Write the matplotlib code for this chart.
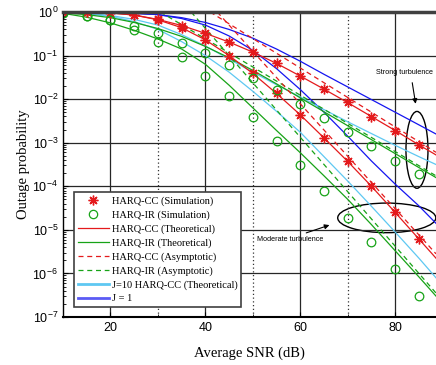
import numpy as np
import matplotlib
matplotlib.use("Agg")
import matplotlib.pyplot as plt
from matplotlib.patches import Ellipse
from matplotlib.lines import Line2D

plt.rcParams['font.family'] = 'Liberation Sans'
plt.rcParams['mathtext.fontset'] = 'custom'
plt.rcParams['mathtext.rm'] = 'Liberation Sans'
plt.rcParams['mathtext.it'] = 'Liberation Sans'

# ---- data (log10 of outage probability) ----
snr_sim = np.arange(10, 90, 5)
snr_th = [10, 15, 20, 25, 30, 35, 40, 45, 50, 55, 60, 65, 70, 75, 80, 85, 88.6]

# strong turbulence
cc_sim_strong = [-0.002, -0.006, -0.02, -0.07, -0.17, -0.31, -0.49, -0.68, -0.91,
                 -1.18, -1.47, -1.77, -2.07, -2.40, -2.72, -3.05]
ir_sim_strong = [-0.03, -0.09, -0.18, -0.31, -0.49, -0.70, -0.95, -1.22, -1.52,
                 -1.80, -2.12, -2.44, -2.76, -3.07, -3.41, -3.72]
cc_th_strong = [-0.002, -0.006, -0.02, -0.07, -0.17, -0.31, -0.49, -0.69, -0.92,
                -1.18, -1.47, -1.77, -2.08, -2.40, -2.72, -3.05, -3.28]
ir_th_strong = [-0.02, -0.06, -0.13, -0.24, -0.38, -0.56, -0.79, -1.05, -1.34,
                -1.65, -1.97, -2.29, -2.61, -2.93, -3.25, -3.57, -3.80]
j10_strong = [-0.01, -0.03, -0.08, -0.17, -0.30, -0.52, -0.78, -1.08, -1.38,
              -1.67, -1.95, -2.24, -2.52, -2.79, -3.06, -3.32, -3.50]
j1_strong = [0.0, -0.003, -0.01, -0.03, -0.06, -0.13, -0.24, -0.40, -0.60,
             -0.85, -1.13, -1.43, -1.72, -2.01, -2.30, -2.59, -2.80]

# moderate turbulence
cc_sim_mod = [-0.002, -0.006, -0.02, -0.07, -0.18, -0.36, -0.64, -1.00, -1.41,
              -1.86, -2.36, -2.90, -3.42, -4.00, -4.60, -5.21]
ir_sim_mod = [-0.03, -0.09, -0.19, -0.41, -0.68, -1.04, -1.47, -1.93, -2.42,
              -2.96, -3.52, -4.10, -4.73, -5.28, -5.90, -6.51]
cc_th_mod = [-0.002, -0.006, -0.02, -0.07, -0.18, -0.36, -0.64, -1.00, -1.41,
             -1.87, -2.36, -2.89, -3.43, -4.00, -4.60, -5.21, -5.65]
ir_th_mod = [-0.03, -0.12, -0.25, -0.42, -0.62, -0.85, -1.20, -1.68, -2.20,
             -2.72, -3.23, -3.76, -4.30, -4.88, -5.48, -6.08, -6.52]
j10_mod = [-0.01, -0.04, -0.10, -0.22, -0.40, -0.68, -1.00, -1.38, -1.82,
           -2.28, -2.76, -3.32, -3.88, -4.46, -5.05, -5.65, -6.10]
j1_mod = [0.0, -0.003, -0.01, -0.03, -0.06, -0.15, -0.30, -0.55, -0.88,
          -1.30, -1.78, -2.30, -2.85, -3.42, -3.95, -4.45, -4.85]

# asymptotes (straight lines, end points)
cc_asy_strong_x, cc_asy_strong_y = [41, 88.6], [0.0, -3.22]
ir_asy_strong_x, ir_asy_strong_y = [30.5, 88.6], [0.0, -3.76]
cc_asy_mod_x, cc_asy_mod_y = [42.5, 88.6], [0.0, -5.55]
ir_asy_mod_x, ir_asy_mod_y = [37.0, 88.6], [0.0, -6.45]

red = '#e41a1c'
green = '#17a317'
cyan = '#5ec8f2'
blue = '#1515f0'

fig = plt.figure(figsize=(4.36, 3.65), dpi=100)
ax = fig.add_axes([63 / 436, 48 / 365, 373 / 436, 305 / 365])

p = lambda v: 10.0 ** np.array(v)
lw = 0.9

for yy in (j1_strong, j1_mod):
    ax.plot(snr_th, p(yy), color=blue, lw=lw)
for yy in (j10_strong, j10_mod):
    ax.plot(snr_th, p(yy), color=cyan, lw=lw)
for yy in (ir_th_strong, ir_th_mod):
    ax.plot(snr_th, p(yy), color=green, lw=lw)
for xx, yy in ((ir_asy_strong_x, ir_asy_strong_y), (ir_asy_mod_x, ir_asy_mod_y)):
    ax.plot(xx, p(yy), color=green, lw=lw, ls=(0, (4, 3)))
for yy in (cc_th_strong, cc_th_mod):
    ax.plot(snr_th, p(yy), color=red, lw=lw)
for xx, yy in ((cc_asy_strong_x, cc_asy_strong_y), (cc_asy_mod_x, cc_asy_mod_y)):
    ax.plot(xx, p(yy), color=red, lw=lw, ls=(0, (4, 3)))

star = (8, 2, 0)
for yy in (cc_sim_strong, cc_sim_mod):
    ax.plot(snr_sim, p(yy), ls='none', marker=star, ms=7, mec=red, mew=1.0, color=red)
for yy in (ir_sim_strong, ir_sim_mod):
    ax.plot(snr_sim, p(yy), ls='none', marker='o', ms=6.2, mfc='none', mec=green, mew=0.9)

ax.set_yscale('log')
ax.set_xlim(10, 88.6)
ax.set_ylim(1e-7, 1)
ax.set_xticks([20, 40, 60, 80])
ax.set_xticks([30, 50, 70], minor=True)
ax.set_yticks([10.0 ** k for k in range(-7, 1)])
ax.grid(True, which='major', axis='both', color='0.15', lw=0.9, ls='-')
ax.grid(True, which='minor', axis='x', color='0.2', lw=0.9, ls=(0, (1, 2)))
ax.tick_params(which='both', direction='in', labelsize=9)
ax.tick_params(which='minor', axis='y', length=2.5)
ax.spines['right'].set_visible(False)
ax.spines['top'].set_color('0.25')
ax.spines['top'].set_linewidth(2.5)
ax.spines['left'].set_linewidth(1.0)
ax.spines['bottom'].set_linewidth(1.5)

ax.set_xlabel('Average SNR (dB)', family='Liberation Serif', fontsize=10.5, labelpad=9)
ax.set_ylabel('Outage probability', family='Liberation Serif', fontsize=10.5, labelpad=2)

handles = [
    Line2D([], [], ls='none', marker=star, ms=7, mec=red, mew=1.0),
    Line2D([], [], ls='none', marker='o', ms=6, mfc='none', mec=green, mew=0.9),
    Line2D([], [], color=red, lw=lw),
    Line2D([], [], color=green, lw=lw),
    Line2D([], [], color=red, lw=lw, ls=(0, (4, 3))),
    Line2D([], [], color=green, lw=lw, ls=(0, (4, 3))),
    Line2D([], [], color=cyan, lw=2),
    Line2D([], [], color=blue, lw=2, alpha=0.7),
]
labels = ['HARQ-CC (Simulation)', 'HARQ-IR (Simulation)', 'HARQ-CC (Theoretical)',
          'HARQ-IR (Theoretical)', 'HARQ-CC (Asymptotic)', 'HARQ-IR (Asymptotic)',
          'J=10 HARQ-CC (Theoretical)', 'J = 1']
leg = ax.legend(handles, labels, loc='lower left', bbox_to_anchor=(0.0295, 0.033),
                borderaxespad=0, prop={'family': 'Liberation Serif', 'size': 7.5},
                handlelength=3.0, handletextpad=0.3, labelspacing=0.42,
                fancybox=False, framealpha=1, edgecolor='0.25', borderpad=0.35)
leg.get_frame().set_linewidth(1.2)

# annotations
ax.add_patch(Ellipse((0.949, 0.548), 0.059, 0.252, transform=ax.transAxes,
                     fill=False, ec='black', lw=1.0))
ax.add_patch(Ellipse((0.868, 0.325), 0.263, 0.097, transform=ax.transAxes,
                     fill=False, ec='black', lw=1.0))
ax.annotate('', xy=(84.4, 10 ** -2.17), xytext=(83.5, 10 ** -1.56),
            arrowprops=dict(arrowstyle='-|>', color='black', lw=0.8, mutation_scale=7))
ax.text(81.9, 10 ** -1.40, 'Strong turbulence', fontsize=5.2, ha='center', va='center')
ax.annotate('', xy=(66.7, 10 ** -4.87), xytext=(60.7, 10 ** -5.09),
            arrowprops=dict(arrowstyle='-|>', color='black', lw=0.8, mutation_scale=7))
ax.text(57.9, 10 ** -5.23, 'Moderate turbulence', fontsize=5.2, ha='center', va='center')

fig.savefig('out.png', dpi=100)
